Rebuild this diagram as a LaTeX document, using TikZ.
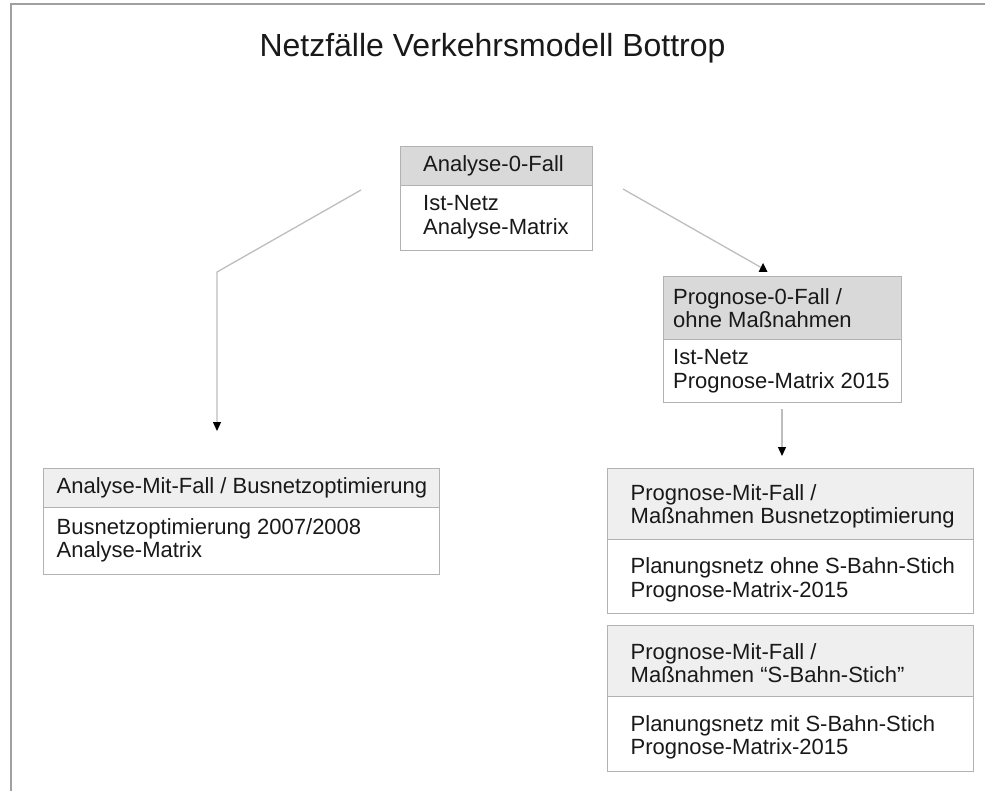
\documentclass[tikz,border=0pt]{standalone}
\usepackage{fontspec}
\setmainfont{Liberation Sans}
\usetikzlibrary{arrows.meta}
\definecolor{boxline}{RGB}{178,178,178}
\definecolor{hdrdarkfill}{RGB}{217,217,217}
\definecolor{hdrlightfill}{RGB}{239,239,239}
\definecolor{connline}{RGB}{190,190,190}
\definecolor{framecol}{RGB}{160,160,160}
\tikzset{
  boxbase/.style={draw=boxline, line width=1.2pt, rectangle, inner sep=0pt, anchor=north west},
  hdrdark/.style={boxbase, fill=hdrdarkfill},
  hdrlight/.style={boxbase, fill=hdrlightfill},
  bodybox/.style={boxbase, fill=white},
  txt/.style={anchor=west, align=left, inner sep=0pt, font=\fontsize{22pt}{23.5pt}\selectfont, text=black!90},
  conn/.style={draw=connline, line width=1.3pt},
  arrowconn/.style={conn, -{Triangle[length=9pt,width=8pt,color=black]}},
}
\begin{document}
\begin{tikzpicture}[x=1pt,y=-1pt]
\useasboundingbox (0,0) rectangle (985,791);
\fill[white] (0,0) rectangle (985,791);
\draw[framecol, line width=1.5pt] (985,4) -- (11,4) -- (11,791);

\node[anchor=base, inner sep=0pt, font=\fontsize{32pt}{36pt}\selectfont, text=black!90] (title) at (492.5,57) {Netzfälle Verkehrsmodell Bottrop};

% Box A
\node[hdrdark, minimum width=192pt, minimum height=39pt] (aH) at (400,146) {};
\node[bodybox, minimum width=192pt, minimum height=65pt] (aB) at (400,185) {};
\node[txt] (aHt) at ([xshift=23pt]aH.west) {Analyse-0-Fall};
\node[txt] (aBt) at ([xshift=23pt,yshift=1pt]aB.west) {Ist-Netz\\Analyse-Matrix};

% Box B
\node[hdrdark, minimum width=238pt, minimum height=63pt] (bH) at (663,276) {};
\node[bodybox, minimum width=238pt, minimum height=63pt] (bB) at (663,339) {};
\node[txt] (bHt) at ([xshift=10pt]bH.west) {Prognose-0-Fall /\\ohne Maßnahmen};
\node[txt] (bBt) at ([xshift=10pt]bB.west) {Ist-Netz\\Prognose-Matrix 2015};

% Box C
\node[hdrlight, minimum width=396pt, minimum height=39pt] (cH) at (43,468) {};
\node[bodybox, minimum width=396pt, minimum height=67pt] (cB) at (43,507) {};
\node[txt] (cHt) at ([xshift=13.5pt]cH.west) {Analyse-Mit-Fall / Busnetzoptimierung};
\node[txt] (cBt) at ([xshift=13.5pt,yshift=1pt]cB.west) {Busnetzoptimierung 2007/2008\\Analyse-Matrix};

% Box D
\node[hdrlight, minimum width=366pt, minimum height=71pt] (dH) at (607,468) {};
\node[bodybox, minimum width=366pt, minimum height=74pt] (dB) at (607,539) {};
\node[txt] (dHt) at ([xshift=23.5pt,yshift=-2pt]dH.west) {Prognose-Mit-Fall /\\Maßnahmen Busnetzoptimierung};
\node[txt] (dBt) at ([xshift=23.5pt,yshift=-3pt]dB.west) {Planungsnetz ohne S-Bahn-Stich\\Prognose-Matrix-2015};

% Box E
\node[hdrlight, minimum width=366pt, minimum height=71pt] (eH) at (607,625) {};
\node[bodybox, minimum width=366pt, minimum height=75pt] (eB) at (607,696) {};
\node[txt] (eHt) at ([xshift=23.5pt,yshift=-2pt]eH.west) {Prognose-Mit-Fall /\\Maßnahmen “S-Bahn-Stich”};
\node[txt] (eBt) at ([xshift=23.5pt,yshift=-3pt]eB.west) {Planungsnetz mit S-Bahn-Stich\\Prognose-Matrix-2015};

% connectors
\coordinate (lStart) at (361,190);
\coordinate (lBend) at (217,272);
\coordinate (lEnd) at (217,431);
\draw[arrowconn] (lStart) -- (lBend) -- (lEnd);

\coordinate (rStart) at (623,189);
\coordinate (rEnd) at (762,268);
\draw[conn] (rStart) -- (rEnd);
\fill[black] (763,263) -- (767.5,272) -- (758.5,272) -- cycle;

\coordinate (vStart) at (782,409);
\coordinate (vEnd) at (782,456);
\draw[arrowconn] (vStart) -- (vEnd);
\end{tikzpicture}
\end{document}
